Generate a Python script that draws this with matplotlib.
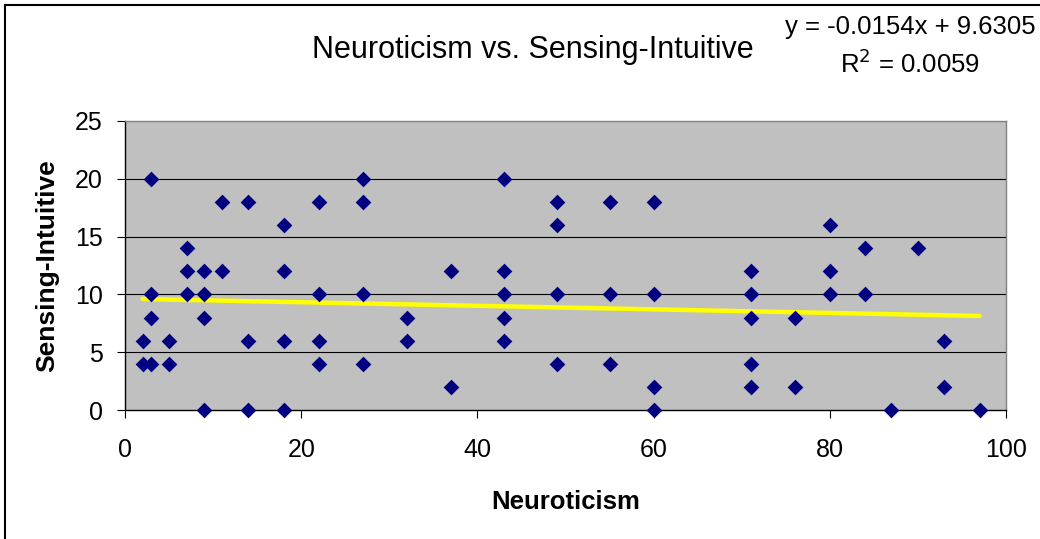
import matplotlib
matplotlib.use("Agg")
import matplotlib.pyplot as plt
from matplotlib.lines import Line2D
import numpy as np

plt.rcParams['font.family'] = ['Liberation Sans', 'DejaVu Sans']

# Data (Neuroticism, Sensing-Intuitive)
neuroticism = [2, 2, 3, 3, 3, 3, 5, 5, 7, 7, 7, 9, 9, 9, 9, 11, 11, 14, 14, 14,
               18, 18, 18, 18, 22, 22, 22, 22, 27, 27, 27, 27, 32, 32, 37, 37,
               43, 43, 43, 43, 43, 49, 49, 49, 49, 55, 55, 55, 60, 60, 60, 60,
               71, 71, 71, 71, 71, 76, 76, 80, 80, 80, 84, 84, 87, 90, 93, 93, 97]
sensing_intuitive = [6, 4, 20, 10, 8, 4, 6, 4, 14, 12, 10, 12, 10, 8, 0, 18, 12, 18, 6, 0,
                     16, 12, 6, 0, 18, 10, 6, 4, 20, 18, 10, 4, 8, 6, 12, 2,
                     20, 12, 10, 8, 6, 18, 16, 10, 4, 18, 10, 4, 18, 10, 2, 0,
                     12, 10, 8, 4, 2, 8, 2, 16, 12, 10, 14, 10, 0, 14, 6, 2, 0]

trend_slope = -0.0154
trend_intercept = 9.6305
r_squared = 0.0059

x_ticks = [0, 20, 40, 60, 80, 100]
y_ticks = [0, 5, 10, 15, 20, 25]

W, H = 1040, 539
fig = plt.figure(figsize=(W / 100, H / 100), dpi=100)
fig.patch.set_facecolor('white')

# outer chart border (top and left visible)
fig.add_artist(Line2D([5 / W, 5 / W], [0, 1 - 5 / H], transform=fig.transFigure,
                      color='black', lw=1.5))
fig.add_artist(Line2D([5 / W, 1], [1 - 5 / H, 1 - 5 / H], transform=fig.transFigure,
                      color='black', lw=1.5))

left, right, top, bottom = 125, 1006, 121, 410
ax = fig.add_axes([left / W, 1 - bottom / H, (right - left) / W, (bottom - top) / H])
ax.set_facecolor('#C0C0C0')
ax.set_xlim(0, 100)
ax.set_ylim(0, 25)
ax.set_xticks(x_ticks)
ax.set_yticks(y_ticks)

for yv in y_ticks[1:-1]:
    ax.axhline(yv, color='black', lw=0.8, zorder=1)

ax.spines['left'].set_color('black')
ax.spines['bottom'].set_color('black')
ax.spines['top'].set_color('#808080')
ax.spines['right'].set_color('#808080')
for s in ax.spines.values():
    s.set_linewidth(1.0)

ax.tick_params(axis='both', direction='out', length=6, width=0.8, color='black',
               labelsize=18)
ax.tick_params(axis='x', pad=14)
ax.tick_params(axis='y', pad=10)

xs = np.array([min(neuroticism), max(neuroticism)])
ax.plot(xs, trend_slope * xs + trend_intercept, color='#FFFF00', lw=3.2, zorder=2,
        solid_capstyle='round')

ax.scatter(neuroticism, sensing_intuitive, marker='D', s=8.0 ** 2, color='#000080',
           linewidths=0, zorder=3, clip_on=False)

ax.set_xlabel('Neuroticism', fontsize=18.5, fontweight='bold', labelpad=20)
ax.set_ylabel('Sensing-Intuitive', fontsize=19, fontweight='bold', labelpad=11)

fig.text(533 / W, 1 - 50 / H, 'Neuroticism vs. Sensing-Intuitive', fontsize=22,
         ha='center', va='center')
fig.text(910 / W, 1 - 34 / H, f'y = {trend_slope}x + {trend_intercept}', fontsize=18.5,
         ha='center', va='baseline')
fig.text(910 / W, 1 - 73 / H, f'R$^2$ = {r_squared}', fontsize=18.5,
         ha='center', va='baseline')

fig.savefig('out.png', dpi=100)
